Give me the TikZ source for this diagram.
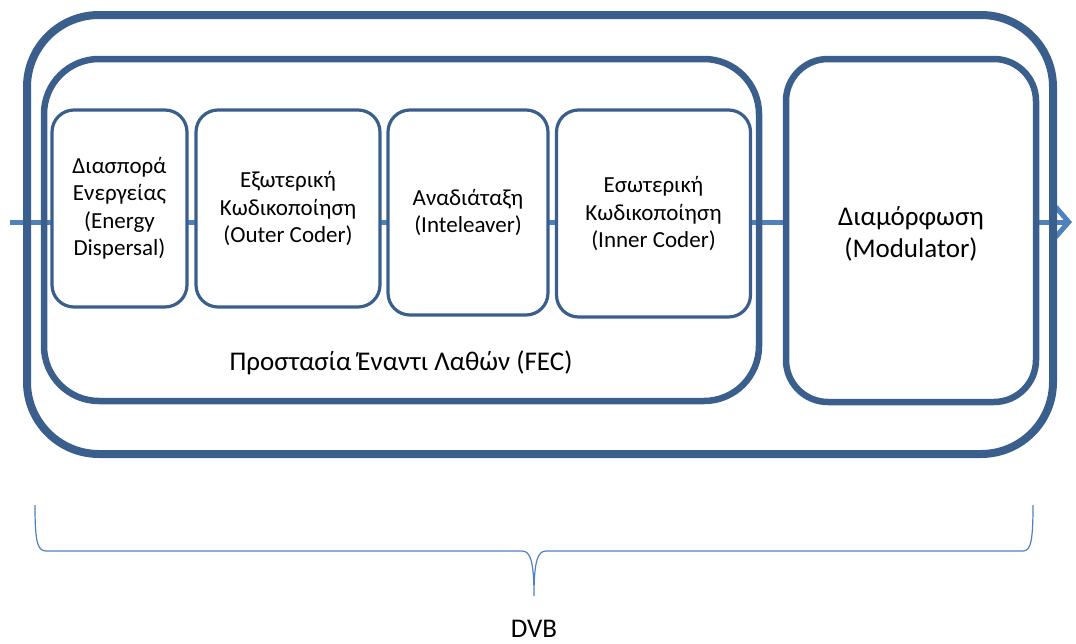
\documentclass[tikz,border=0pt]{standalone}
\usepackage{fontspec}
\setmainfont{Carlito}
\usetikzlibrary{arrows.meta}
\definecolor{frame}{HTML}{3A5F8C}
\definecolor{flowblue}{HTML}{4F81BD}
\begin{document}
\begin{tikzpicture}[x=1pt,y=-1pt,
  stagebox/.style={draw=frame,line width=3.2pt,fill=white,rounded corners=22pt,
    inner sep=0pt,align=center,text=black,font=\fontsize{23}{27.5}\selectfont},
  bigbox/.style={draw=frame,line width=6.5pt,inner sep=0pt},
  flow/.style={draw=flowblue,line width=5pt,-{Straight Barb[length=13pt,width=30pt]}},
  caption/.style={text=black,font=\fontsize{27}{32}\selectfont,align=center}]
\useasboundingbox (0,0) rectangle (1076,643);

% signal path through the chain
\coordinate (in) at (10,222);
\coordinate (out) at (1072,222);
\draw[flow] (in) -- (out);

% outer DVB frame and the FEC group
\node[bigbox,line width=8pt,rounded corners=72pt,minimum width=1026pt,minimum height=439pt]
  (dvb) at (540,234.5) {};
\node[bigbox,rounded corners=55pt,minimum width=715pt,minimum height=342pt]
  (fec) at (401.5,230) {};
\node[caption] (feclabel) at (401,363) {Προστασία Έναντι Λαθών (FEC)};

% processing stages
\node[stagebox,minimum width=135pt,minimum height=197pt] (disp) at (119.5,208.5)
  {Διασπορά\\Ενεργείας\\(Energy\\Dispersal)};
\node[stagebox,minimum width=184pt,minimum height=197pt] (outer) at (288,208.5)
  {Εξωτερική\\Κωδικοποίηση\\(Outer Coder)};
\node[stagebox,minimum width=160pt,minimum height=205pt] (intl) at (468,212.5)
  {Αναδιάταξη\\(Inteleaver)};
\node[stagebox,minimum width=194pt,minimum height=207pt] (inner) at (653.5,213.5)
  {Εσωτερική\\Κωδικοποίηση\\(Inner Coder)};

% modulator
\node[bigbox,fill=white,rounded corners=42pt,minimum width=250pt,minimum height=343pt]
  (mod) at (911,230.5) {};
\node[caption] (modlabel) at (911,234) {Διαμόρφωση\\(Modulator)};

% brace spanning the whole DVB chain
\coordinate (bl) at (35,505);
\coordinate (br) at (1033,505);
\coordinate (tip) at (534,596);
\draw[flowblue,line width=1.2pt]
  (bl) .. controls (35,540) and (37,551) .. (46,551) -- (522,551)
  .. controls (530,551) and (534,560) .. (tip)
  .. controls (534,560) and (538,551) .. (546,551) -- (1023,551)
  .. controls (1031,551) and (1033,540) .. (br);
\node[caption] (dvblabel) at (534,629) {DVB};
\end{tikzpicture}
\end{document}
